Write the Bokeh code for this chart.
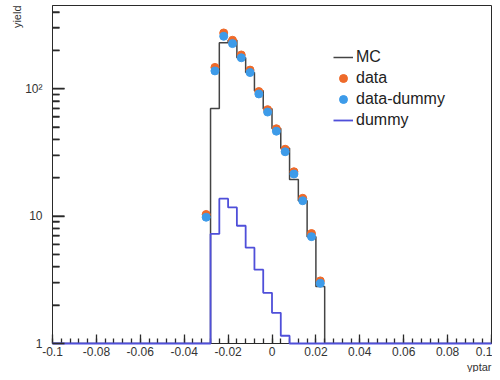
import numpy as np
from bokeh.plotting import figure
from bokeh.models import Range1d, FixedTicker, Legend, LegendItem, Title
from bokeh.embed import file_html
from bokeh.resources import INLINE

# ---- data ----
bin_width = 0.004
bin_centers = [-0.030, -0.026, -0.022, -0.018, -0.014, -0.010, -0.006,
               -0.002, 0.002, 0.006, 0.010, 0.014, 0.018, 0.022]
mc = [0, 70, 229, 240, 175, 134, 96.5, 69.6, 48.7, 34.1, 19.4, 13.2, 6.9, 2.8]
data = [10.3, 147, 274, 240, 184, 140, 95, 68.5, 48.5, 33.5, 22.3, 13.8, 7.3, 3.1]
data_minus_dummy = [9.8, 138, 258, 226, 175, 134, 91, 65.6, 46.4, 32, 21.4, 13.2, 6.9, 2.97]
dummy = [0, 7.25, 13.7, 11.7, 8.4, 5.65, 3.8, 2.5, 1.74, 1.15, 0, 0, 0, 0]

x_ticks = [-0.1, -0.08, -0.06, -0.04, -0.02, 0, 0.02, 0.04, 0.06, 0.08, 0.1]
x_tick_labels = ["-0.1", "-0.08", "-0.06", "-0.04", "-0.02", "0",
                 "0.02", "0.04", "0.06", "0.08", "0.1"]
y_ticks = [1, 10, 100]
y_tick_labels = ["1", "10", "10\u00b2"]

x_start, x_end = -0.1, 0.1
y_start, y_end = 1, 450

FONT = "Liberation Sans"
AX = "#2a2a2a"
C_MC = "#444444"
C_DUMMY = "#4f4fd9"
C_DATA = "#ee6a2a"
C_DMD = "#3d9be9"


def step_path(centers, values, width, floor, x0, x1):
    xs = [x0, centers[0] - width / 2]
    ys = [floor, floor]
    for c, v in zip(centers, values):
        v = max(v, floor)
        xs += [c - width / 2, c + width / 2]
        ys += [v, v]
    xs += [centers[-1] + width / 2, x1]
    ys += [floor, floor]
    return xs, ys


p = figure(width=492, height=372, output_backend="svg", toolbar_location=None,
           x_range=Range1d(x_start, x_end), y_range=Range1d(y_start, y_end),
           y_axis_type="log",
           min_border_left=52, min_border_right=1, min_border_top=5,
           min_border_bottom=24)
p.background_fill_color = "white"
p.border_fill_color = "white"
p.outline_line_color = AX
p.outline_line_width = 1
p.xgrid.visible = False
p.ygrid.visible = False

mx, my = step_path(bin_centers, mc, bin_width, y_start, x_start, x_end)
r_mc = p.line(mx, my, line_color=C_MC, line_width=1.5)
dx, dy = step_path(bin_centers, dummy, bin_width, y_start, x_start, x_end)
r_dummy = p.line(dx, dy, line_color=C_DUMMY, line_width=1.8, level="overlay")

r_data = p.scatter(bin_centers, data, marker="circle", size=8,
                   fill_color=C_DATA, line_color=C_DATA)
r_dmd = p.scatter(bin_centers, data_minus_dummy, marker="circle", size=8,
                  fill_color=C_DMD, line_color=C_DMD)

# axes
n_minor = int(round((x_end - x_start) / bin_width))
minor_x = [round(x_start + i * bin_width, 4) for i in range(n_minor + 1)]
p.xaxis.ticker = FixedTicker(ticks=x_ticks, minor_ticks=minor_x)
p.xaxis.major_label_overrides = {t: l for t, l in zip(x_ticks, x_tick_labels)}
minor_y = [float(m * 10 ** k) for k in range(3) for m in range(2, 10) if m * 10 ** k <= y_end]
p.yaxis.ticker = FixedTicker(ticks=y_ticks, minor_ticks=minor_y)
p.yaxis.major_label_overrides = {t: l for t, l in zip(y_ticks, y_tick_labels)}

for ax in (p.xaxis[0], p.yaxis[0]):
    ax.axis_line_color = AX
    ax.major_tick_line_color = AX
    ax.minor_tick_line_color = AX
    ax.major_tick_line_width = 1.3
    ax.minor_tick_line_width = 1.3
    ax.major_tick_out = 0
    ax.minor_tick_out = 0
    ax.major_label_text_font = FONT
    ax.major_label_text_font_size = "12px"
    ax.major_label_text_color = "#333333"
p.xaxis.major_tick_in = 9
p.xaxis.minor_tick_in = 5
p.xaxis.major_label_standoff = 3
p.yaxis.major_tick_in = 12
p.yaxis.minor_tick_in = 7
p.yaxis.major_label_standoff = 10

# inward y ticks as short screen-length rays from the left frame edge
p.ray(x=[x_start] * len(y_ticks), y=y_ticks, length=12, length_units="screen",
      angle=0, line_color=AX, line_width=1.4, level="overlay")
p.ray(x=[x_start] * len(minor_y), y=minor_y, length=7, length_units="screen",
      angle=0, line_color=AX, line_width=1.4, level="overlay")

# axis titles
p.add_layout(Title(text="yptar", align="right", standoff=0,
                   text_font=FONT, text_font_size="11px",
                   text_font_style="normal", text_color="#333333"), "below")
p.add_layout(Title(text="yield", align="right", standoff=0,
                   text_font=FONT, text_font_size="11px",
                   text_font_style="normal", text_color="#333333"), "left")

legend = Legend(items=[LegendItem(label="MC", renderers=[r_mc]),
                       LegendItem(label="data", renderers=[r_data]),
                       LegendItem(label="data-dummy", renderers=[r_dmd]),
                       LegendItem(label="dummy", renderers=[r_dummy])],
                location=(281, 213))
legend.border_line_color = None
legend.background_fill_alpha = 0
legend.padding = 0
legend.margin = 0
legend.spacing = 1
legend.label_height = 20
legend.glyph_height = 20
legend.glyph_width = 20
legend.label_standoff = 3
legend.label_text_font = FONT
legend.label_text_font_size = "16px"
legend.label_text_color = "#222222"
p.add_layout(legend)

open("out.html", "w").write(file_html(p, INLINE))
